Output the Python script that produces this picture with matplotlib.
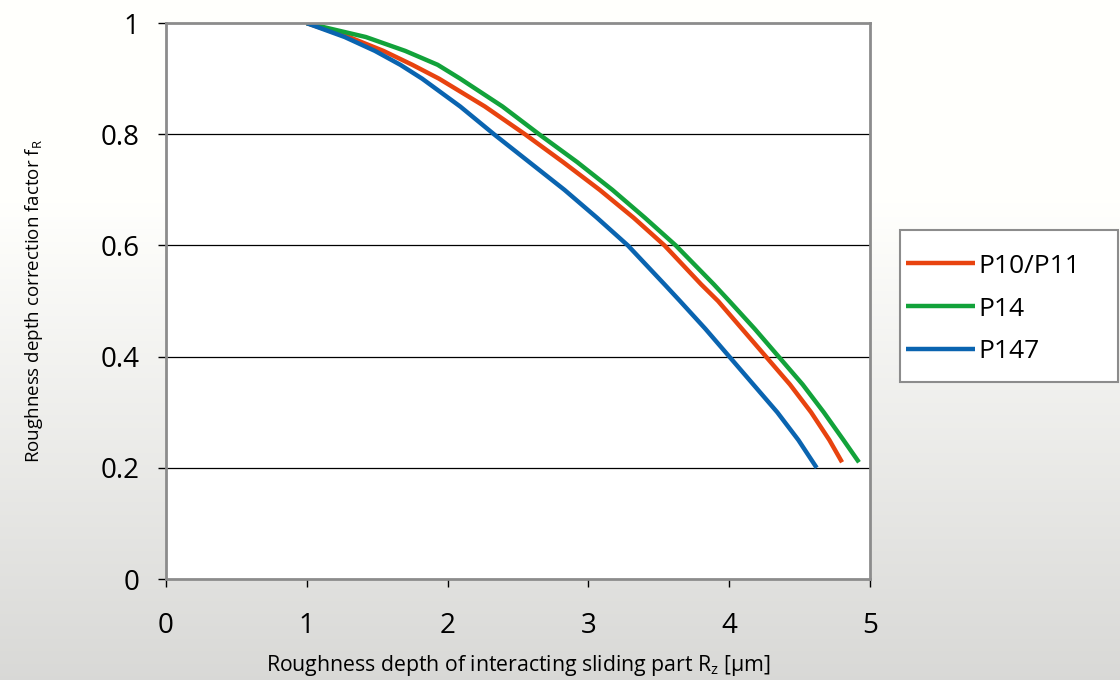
import matplotlib.pyplot as plt
import numpy as np
from matplotlib.patches import Rectangle

# values
blue_x = [1.0, 1.27, 1.485, 1.665, 1.82, 2.09, 2.33, 2.58, 2.83, 3.06,
          3.28, 3.54, 3.65, 3.83, 4.00, 4.17, 4.34, 4.49, 4.62]
blue_y = [1.0, 0.975, 0.95, 0.925, 0.90, 0.85, 0.80, 0.75, 0.70, 0.65,
          0.60, 0.53, 0.50, 0.45, 0.40, 0.35, 0.30, 0.25, 0.20]

red_x = [1.0, 1.30, 1.545, 1.75, 1.94, 2.265, 2.55, 2.82, 3.08, 3.32,
         3.54, 3.80, 3.92, 4.09, 4.26, 4.43, 4.58, 4.71, 4.80]
red_y = [1.0, 0.975, 0.95, 0.925, 0.90, 0.85, 0.80, 0.75, 0.70, 0.65,
         0.60, 0.53, 0.50, 0.45, 0.40, 0.35, 0.30, 0.25, 0.21]

green_x = [1.0, 1.42, 1.70, 1.93, 2.09, 2.39, 2.65, 2.92, 3.17, 3.40,
           3.62, 3.89, 4.00, 4.18, 4.35, 4.52, 4.67, 4.81, 4.92]
green_y = [1.0, 0.975, 0.95, 0.925, 0.90, 0.85, 0.80, 0.75, 0.70, 0.65,
           0.60, 0.53, 0.50, 0.45, 0.40, 0.35, 0.30, 0.25, 0.21]

x_ticks = [0, 1, 2, 3, 4, 5]
y_ticks = [0, 0.2, 0.4, 0.6, 0.8, 1]
y_tick_labels = ["0", "0.2", "0.4", "0.6", "0.8", "1"]

plt.rcParams["font.family"] = ["Open Sans", "DejaVu Sans"]
plt.rcParams["mathtext.fontset"] = "custom"
plt.rcParams["mathtext.rm"] = "Open Sans"

fig = plt.figure(figsize=(11.2, 6.8), dpi=100)

# grey gradient background, white at the top
bg = fig.add_axes([0, 0, 1, 1], zorder=-10)
rows = np.linspace(0, 1, 300)
shade = np.clip((rows - 0.3) / 0.7, 0, 1)
col = 1.0 - 0.15 * shade
img = np.stack([col, col, col * 0.99], axis=-1)[:, None, :]
bg.imshow(img, aspect="auto", extent=[0, 1, 0, 1], origin="upper")
bg.set_axis_off()

ax = fig.add_axes([0.148, 0.1485, 0.629, 0.8175])
ax.set_facecolor("white")

ax.plot(red_x, red_y, color="#e8430f", lw=3.2, label="P10/P11", solid_capstyle="butt")
ax.plot(green_x, green_y, color="#12a23a", lw=3.2, label="P14", solid_capstyle="butt")
ax.plot(blue_x, blue_y, color="#0a64b0", lw=3.2, label="P147", solid_capstyle="butt")

ax.set_xlim(0, 5)
ax.set_ylim(0, 1)
ax.set_xticks(x_ticks)
ax.set_yticks(y_ticks)
ax.set_yticklabels(y_tick_labels)
ax.tick_params(direction="out", length=6, width=1, colors="black", labelsize=20)
ax.tick_params(axis="x", pad=18)
ax.tick_params(axis="y", pad=13)

for y in y_ticks[1:-1]:
    ax.axhline(y, color="black", lw=0.9, zorder=1)

for s in ax.spines.values():
    s.set_color("#8c8c8c")
    s.set_linewidth(2)

ax.set_xlabel(r"Roughness depth of interacting sliding part R$_\mathrm{z}$ [µm]", fontsize=15.3, labelpad=9)
ax.set_ylabel(r"Roughness depth correction factor f$_\mathrm{R}$", fontsize=13.5, labelpad=40)

# legend box
fig.patches.append(Rectangle((900 / 1120, 1 - 382 / 680), 218 / 1120, 152 / 680,
                             transform=fig.transFigure, facecolor="white",
                             edgecolor="#8c8c8c", lw=1.5, zorder=0))
fig.legend(loc="center left", bbox_to_anchor=(906 / 1120, 1 - 309 / 680),
           frameon=False, fontsize=19, handlelength=2.6, handletextpad=0.15,
           labelspacing=0.68, borderaxespad=0, borderpad=0)

fig.savefig("out.png", dpi=100)
